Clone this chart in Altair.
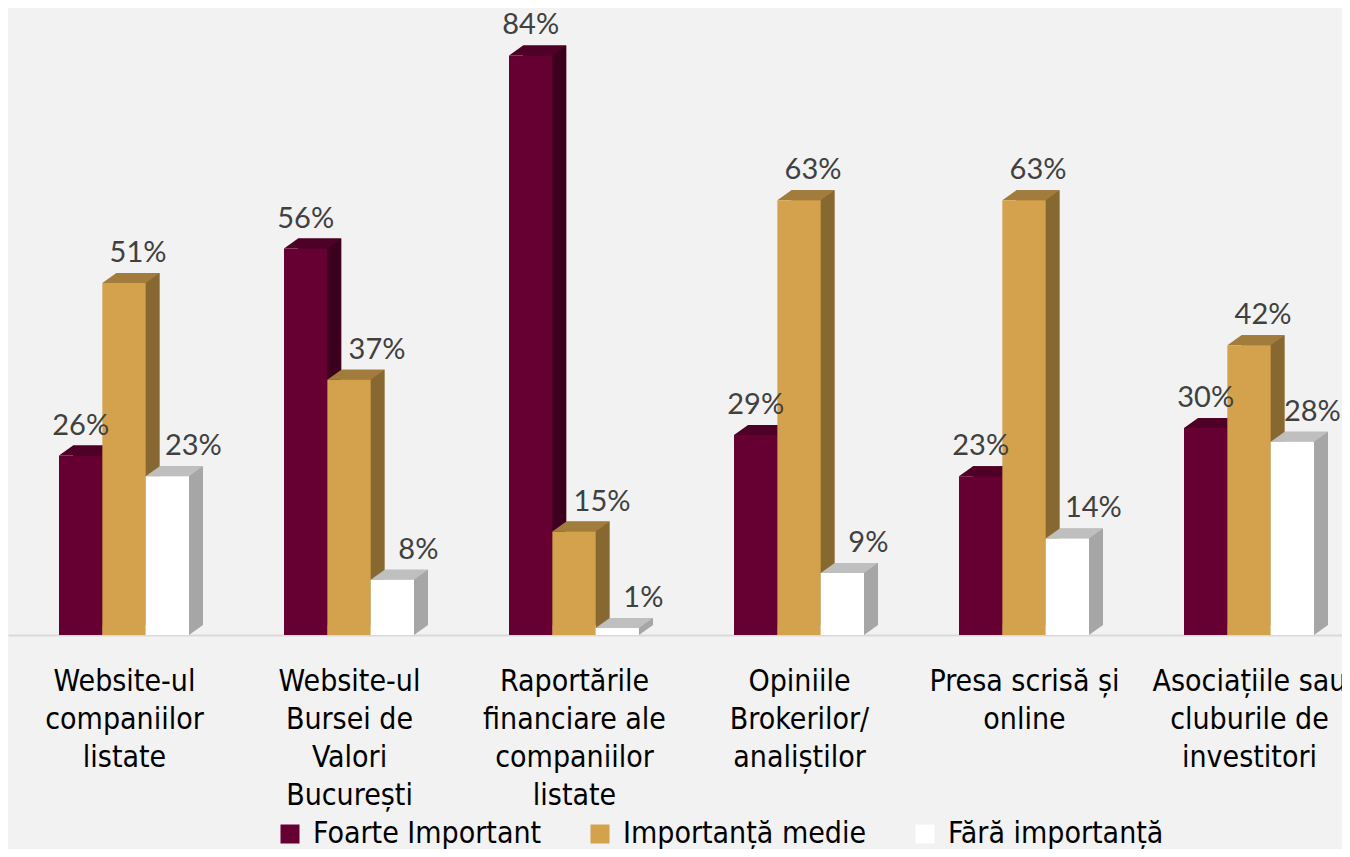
import altair as alt
import pandas as pd

CATEGORIES = [
    "Website-ul\ncompaniilor\nlistate",
    "Website-ul\nBursei de\nValori\nBucurești",
    "Raportările\nfinanciare ale\ncompaniilor\nlistate",
    "Opiniile\nBrokerilor/\nanaliștilor",
    "Presa scrisă și\nonline",
    "Asociațiile sau\ncluburile de\ninvestitori",
]
SERIES = ["Foarte Important", "Importanță medie", "Fără importanță"]
FOARTE_IMPORTANT = [26, 56, 84, 29, 23, 30]
IMPORTANTA_MEDIE = [51, 37, 15, 63, 63, 42]
FARA_IMPORTANTA = [23, 8, 1, 9, 14, 28]

FRONT_COLORS = ["#660033", "#D4A24C", "#FFFFFF"]
TOP_COLORS = ["#4E0027", "#A27C3C", "#BFBFBF"]
SIDE_COLORS = ["#3C001E", "#876830", "#A6A6A6"]

AXIS_FONT = "Liberation Sans Narrow, DejaVu Sans Condensed, Roboto, sans-serif"
NUM_FONT = "Lato, Open Sans, sans-serif"

rows = []
for i, cat in enumerate(CATEGORIES):
    vals = [FOARTE_IMPORTANT[i], IMPORTANTA_MEDIE[i], FARA_IMPORTANTA[i]]
    for j, s in enumerate(SERIES):
        rows.append({
            "gi": i,
            "si": j,
            "category": cat,
            "series": s,
            "value": vals[j],
            "label": f"{vals[j]}%",
            "left_taller": bool(j > 0 and vals[j - 1] > vals[j]),
        })
df = pd.DataFrame(rows)

COLOR_DOMAIN = SERIES + [s + "|top" for s in SERIES] + [s + "|side" for s in SERIES]
COLOR_RANGE = FRONT_COLORS + TOP_COLORS + SIDE_COLORS

BAR_W = 0.1926  # bar width in group units (one group = 1)
HW = 21.67      # half bar width in px
DX, DY = 14, 10
TOP_PATH = f"M {-HW},0 L {HW},0 L {HW + DX},{-DY} L {-HW + DX},{-DY} Z"
BOTTOM_PATH = f"M {HW},{-DY} L {HW},0 L {HW + DX},{-DY} Z"

cat_array = "[" + ",".join("'" + c.replace("\n", "|") + "'" for c in CATEGORIES) + "]"
LAST = len(CATEGORIES) - 1

x_scale = alt.Scale(domain=[-0.5156, 5.4133], nice=False, zero=False)
y_scale = alt.Scale(domain=[0, 90], nice=False, zero=True)

x_axis = alt.Axis(
    title=None,
    values=list(range(len(CATEGORIES))),
    labelExpr=f"split({cat_array}[datum.value], '|')",
    labelAngle=0,
    labelFont=AXIS_FONT,
    labelFontSize=30,
    labelLineHeight=38,
    labelColor="#000000",
    labelPadding=31,
    labelBaseline="top",
    labelAlign="center",
    labelLimit=400,
    labelOverlap=False,
    labelBound=False,
    labelFlush=False,
    ticks=False,
    domainColor="#D9D9D9",
    domainWidth=2,
    grid=False,
)

color_enc = alt.Color(
    "key:N",
    scale=alt.Scale(domain=COLOR_DOMAIN, range=COLOR_RANGE),
    legend=alt.Legend(
        values=SERIES,
        title=None,
        orient="none",
        legendX=267,
        legendY=805,
        direction="horizontal",
        symbolType="square",
        symbolSize=361,
        symbolStrokeWidth=0,
        symbolOpacity=1,
        labelFont=AXIS_FONT,
        labelFontSize=30,
        labelColor="#000000",
        labelOffset=8,
        columnPadding=43,
        labelLimit=400,
    ),
)

base = alt.Chart(df).transform_calculate(
    x0=f"datum.gi + (datum.si - 1.5) * {BAR_W}",
    x1=f"datum.gi + (datum.si - 0.5) * {BAR_W}",
    xc=f"datum.gi + (datum.si - 1) * {BAR_W}",
    zero="0",
)

X0 = alt.X("x0:Q", scale=x_scale, axis=x_axis)
X1 = alt.X2("x1:Q")
XC = alt.X("xc:Q", scale=x_scale, axis=x_axis)
Y = alt.Y("value:Q", scale=y_scale, axis=None)
Y0 = alt.Y2("zero:Q")

side = base.transform_calculate(key="datum.series + '|side'").mark_rect(
    xOffset=DX, x2Offset=DX, yOffset=-DY, y2Offset=-DY, opacity=1, strokeWidth=0
).encode(x=X0, x2=X1, y=Y, y2=Y0, color=color_enc)

bottom = base.transform_calculate(key="datum.series + '|side'").mark_point(
    shape=BOTTOM_PATH, size=4, filled=True, opacity=1, strokeWidth=0
).encode(x=XC, y=alt.Y("zero:Q", scale=y_scale, axis=None), color=color_enc)

top = base.transform_calculate(key="datum.series + '|top'").mark_point(
    shape=TOP_PATH, size=4, filled=True, opacity=1, strokeWidth=0
).encode(x=XC, y=Y, color=color_enc)

front = base.transform_calculate(key="datum.series").mark_rect(opacity=1, strokeWidth=0).encode(
    x=X0, x2=X1, y=Y, y2=Y0, color=color_enc
)


def label_layer(filter_expr, dx):
    return base.transform_filter(filter_expr).mark_text(
        dx=dx, dy=-21, baseline="alphabetic", align="center",
        font=NUM_FONT, fontSize=29, color="#404040",
    ).encode(x=XC, y=Y, text="label:N")


labels = [
    label_layer("datum.si == 0", 0),
    label_layer("datum.si == 1 && !datum.left_taller", 14),
    label_layer("datum.si == 1 && datum.left_taller", 28),
    label_layer(f"datum.si == 2 && datum.gi < {LAST}", 26),
    label_layer(f"datum.si == 2 && datum.gi == {LAST}", 20),
]

chart = alt.layer(side, bottom, top, front, *labels).properties(
    width=1334,
    height=621,
    padding={"left": 0, "top": 6, "right": 0, "bottom": 214},
    autosize=alt.AutoSizeParams(type="none"),
    background="#F2F2F2",
).configure_view(stroke=None)

chart.save("out.html", embed_options={"renderer": "svg", "actions": False})
